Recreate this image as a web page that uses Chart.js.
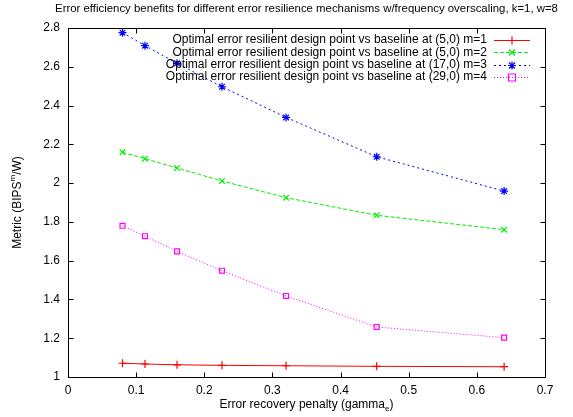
<!DOCTYPE html>
<html>
<head>
<meta charset="utf-8">
<script src="https://cdn.jsdelivr.net/npm/chart.js@4.4.1/dist/chart.umd.min.js"></script>
<style>
  html, body { margin: 0; padding: 0; background: #ffffff; }
  #wrap { width: 573px; height: 417px; }
</style>
</head>
<body>
<div id="wrap"><canvas id="c" width="573" height="417"></canvas></div>
<script>
// Error recovery penalty values (x) and efficiency metric for each mechanism
const penalty  = [0.08, 0.113, 0.16, 0.226, 0.32, 0.453, 0.64];
const metricM1 = [1.071, 1.067, 1.063, 1.060, 1.058, 1.055, 1.053];
const metricM2 = [2.159, 2.126, 2.078, 2.011, 1.925, 1.834, 1.760];
const metricM3 = [2.776, 2.709, 2.618, 2.497, 2.339, 2.136, 1.959];
const metricM4 = [1.780, 1.726, 1.648, 1.548, 1.418, 1.258, 1.203];

const seriesLabels = [
  'Optimal error resilient design point vs baseline at (5,0) m=1',
  'Optimal error resilient design point vs baseline at (5,0) m=2',
  'Optimal error resilient design point vs baseline at (17,0) m=3',
  'Optimal error resilient design point vs baseline at (29,0) m=4'
];

const xTickLabels = ['0', '0.1', '0.2', '0.3', '0.4', '0.5', '0.6', '0.7'];
const yTickLabels = ['1', '1.2', '1.4', '1.6', '1.8', '2', '2.2', '2.4', '2.6', '2.8'];

const chartTitle = 'Error efficiency benefits for different error resilience mechanisms w/frequency overscaling, k=1, w=8';

const FONT = '"Liberation Sans", Arial, Helvetica, sans-serif';

function toPoints(ys) {
  return penalty.map((x, i) => ({ x: x, y: ys[i] }));
}

const styles = [
  { color: '#ff0000', dash: [],     marker: 'plus'   },
  { color: '#00ee00', dash: [4, 2], marker: 'cross'  },
  { color: '#0000ff', dash: [2, 3], marker: 'star'   },
  { color: '#ff00ff', dash: [1, 2], marker: 'square' }
];
const seriesValues = [metricM1, metricM2, metricM3, metricM4];

const chartPointStyle = { plus: 'cross', cross: 'crossRot', star: 'star', square: 'rect' };

const datasets = seriesValues.map((vals, i) => ({
  label: seriesLabels[i],
  data: toPoints(vals),
  borderColor: styles[i].color,
  backgroundColor: 'rgba(0,0,0,0)',
  borderWidth: 1,
  borderDash: styles[i].dash,
  pointStyle: chartPointStyle[styles[i].marker],
  pointRadius: styles[i].marker === 'square' ? 3.5 : 4,
  pointBorderColor: styles[i].color,
  pointBackgroundColor: 'rgba(0,0,0,0)',
  pointBorderWidth: 1.2,
  tension: 0,
  fill: false
}));

function drawMarker(ctx, kind, x, y, color) {
  ctx.save();
  ctx.setLineDash([]);
  ctx.strokeStyle = color;
  ctx.lineWidth = 1.2;
  const r = 4;
  ctx.beginPath();
  if (kind === 'plus' || kind === 'star') {
    ctx.moveTo(x - r, y); ctx.lineTo(x + r, y);
    ctx.moveTo(x, y - r); ctx.lineTo(x, y + r);
  }
  if (kind === 'cross' || kind === 'star') {
    const d = r * 0.75;
    ctx.moveTo(x - d, y - d); ctx.lineTo(x + d, y + d);
    ctx.moveTo(x - d, y + d); ctx.lineTo(x + d, y - d);
  }
  if (kind === 'square') {
    ctx.rect(x - 3.5, y - 3.5, 7, 7);
  }
  ctx.stroke();
  ctx.restore();
}

// Frame, inward ticks on all four sides, titles and key
const framePlugin = {
  id: 'gnuFrame',
  afterDraw(chart) {
    const ctx = chart.ctx;
    const a = chart.chartArea;
    const xs = chart.scales.x, ys = chart.scales.y;
    ctx.save();
    ctx.strokeStyle = '#000';
    ctx.lineWidth = 1;
    ctx.setLineDash([]);
    const L = Math.round(a.left) + 0.5, R = Math.round(a.right) + 0.5;
    const T = Math.round(a.top) + 0.5, B = Math.round(a.bottom) + 0.5;
    ctx.beginPath();
    ctx.rect(L, T, R - L, B - T);
    ctx.stroke();

    const tl = 5;
    ctx.beginPath();
    xs.ticks.forEach(t => {
      const px = Math.round(xs.getPixelForValue(t.value)) + 0.5;
      ctx.moveTo(px, B); ctx.lineTo(px, B - tl);
      ctx.moveTo(px, T); ctx.lineTo(px, T + tl);
    });
    ys.ticks.forEach(t => {
      const py = Math.round(ys.getPixelForValue(t.value)) + 0.5;
      ctx.moveTo(L, py); ctx.lineTo(L + tl, py);
      ctx.moveTo(R, py); ctx.lineTo(R - tl, py);
    });
    ctx.stroke();

    // Title
    ctx.fillStyle = '#000';
    ctx.font = '11.4px ' + FONT;
    ctx.textAlign = 'center';
    ctx.textBaseline = 'middle';
    ctx.fillText(chartTitle, (a.left + a.right) / 2, 9);

    // X axis title with subscript
    ctx.font = '12px ' + FONT;
    ctx.textAlign = 'left';
    const xt1 = 'Error recovery penalty (gamma', xsub = 'e', xt2 = ')';
    const w1 = ctx.measureText(xt1).width;
    const w3 = ctx.measureText(xt2).width;
    ctx.font = '8px ' + FONT;
    const w2 = ctx.measureText(xsub).width;
    let sx = (a.left + a.right) / 2 - (w1 + w2 + w3) / 2;
    const ty = 405;
    ctx.font = '12px ' + FONT;
    ctx.fillText(xt1, sx, ty);
    ctx.font = '8px ' + FONT;
    ctx.fillText(xsub, sx + w1, ty + 4);
    ctx.font = '12px ' + FONT;
    ctx.fillText(xt2, sx + w1 + w2, ty);

    // Y axis title with superscript, rotated
    ctx.save();
    ctx.translate(18, (a.top + a.bottom) / 2);
    ctx.rotate(-Math.PI / 2);
    const yt1 = 'Metric (BIPS', ysup = 'm', yt2 = '/W)';
    ctx.font = '12px ' + FONT;
    const v1 = ctx.measureText(yt1).width, v3 = ctx.measureText(yt2).width;
    ctx.font = '8px ' + FONT;
    const v2 = ctx.measureText(ysup).width;
    let sy = -(v1 + v2 + v3) / 2;
    ctx.font = '12px ' + FONT;
    ctx.fillText(yt1, sy, 0);
    ctx.font = '8px ' + FONT;
    ctx.fillText(ysup, sy + v1, -5);
    ctx.font = '12px ' + FONT;
    ctx.fillText(yt2, sy + v1 + v2, 0);
    ctx.restore();

    // Key
    ctx.font = '12px ' + FONT;
    ctx.textAlign = 'right';
    ctx.textBaseline = 'middle';
    chart.data.datasets.forEach((ds, i) => {
      const ry = 40 + i * 12.3;
      ctx.fillStyle = '#000';
      ctx.fillText(ds.label, 487, ry);
      ctx.save();
      ctx.strokeStyle = styles[i].color;
      ctx.lineWidth = 1;
      ctx.setLineDash(styles[i].dash);
      ctx.beginPath();
      ctx.moveTo(494, Math.round(ry) + 0.5);
      ctx.lineTo(530, Math.round(ry) + 0.5);
      ctx.stroke();
      ctx.restore();
      drawMarker(ctx, styles[i].marker, 512, Math.round(ry) + 0.5, styles[i].color);
    });
    ctx.restore();
  }
};

new Chart(document.getElementById('c'), {
  type: 'line',
  data: { datasets: datasets },
  options: {
    responsive: false,
    animation: false,
    layout: { padding: { left: 0, right: 28, top: 28, bottom: 0 } },
    plugins: {
      legend: { display: false },
      title: { display: false },
      tooltip: { enabled: false }
    },
    scales: {
      x: {
        type: 'linear',
        min: 0, max: 0.7,
        afterFit(scale) { scale.height = 40; },
        ticks: {
          stepSize: 0.1,
          padding: 6,
          color: '#000',
          font: { family: FONT, size: 12 },
          maxRotation: 0,
          callback: (v, idx) => xTickLabels[idx]
        },
        grid: { display: false, drawTicks: false },
        border: { display: false }
      },
      y: {
        type: 'linear',
        min: 1, max: 2.8,
        afterFit(scale) { scale.width = 68; },
        ticks: {
          stepSize: 0.2,
          padding: 8,
          color: '#000',
          font: { family: FONT, size: 12 },
          callback: (v, idx) => yTickLabels[idx]
        },
        grid: { display: false, drawTicks: false },
        border: { display: false }
      }
    }
  },
  plugins: [framePlugin]
});
</script>
</body>
</html>
